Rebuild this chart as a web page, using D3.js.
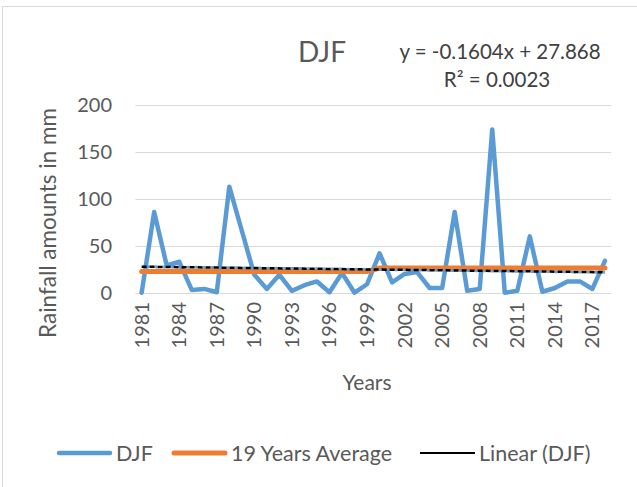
<!DOCTYPE html>
<html>
<head>
<meta charset="utf-8">
<script src="https://cdn.jsdelivr.net/npm/d3@7"></script>
<style>
  html, body { margin: 0; padding: 0; background: #fff; }
  svg { display: block; font-family: Lato, "Open Sans", sans-serif; }
</style>
</head>
<body>
<svg id="chart" width="637" height="487"></svg>
<script>
// DJF seasonal rainfall, 1981–2018
const years = d3.range(1981, 2019);
const djf = [0, 86, 29, 33, 3, 4, 0.5, 113, 66, 19, 4, 19, 2, 8, 12, 0.5, 21, 0, 9,
             42, 11, 20, 22, 5, 5, 86, 2, 4, 174, 0, 2, 60, 1, 5, 12, 12, 4, 34];
// 19-year period averages (1981–1999, 2000–2018)
const avg19 = [22.6, 22.6, 22.6, 22.6, 22.6, 22.6, 22.6, 22.6, 22.6, 22.6,
               22.6, 22.6, 22.6, 22.6, 22.6, 22.6, 22.6, 22.6, 22.6,
               26.3, 26.3, 26.3, 26.3, 26.3, 26.3, 26.3, 26.3, 26.3, 26.3,
               26.3, 26.3, 26.3, 26.3, 26.3, 26.3, 26.3, 26.3, 26.3];
// linear trend fitted on the series index (1..38)
const trendSlope = -0.1604;
const trendIntercept = 27.868;
const yTicks = [0, 50, 100, 150, 200];
const xTickYears = [1981, 1984, 1987, 1990, 1993, 1996, 1999, 2002, 2005, 2008, 2011, 2014, 2017];
const legendItems = ["DJF", "19 Years Average", "Linear (DJF)"];

const textColor = "#595959";
const blue = "#5b9bd5", orange = "#ed7d31";

const svg = d3.select("#chart");

// chart-area border
svg.append("rect")
  .attr("x", 2.5).attr("y", 6.5).attr("width", 700).attr("height", 600)
  .attr("fill", "none").attr("stroke", "#d9d9d9").attr("stroke-width", 1);

const x = d3.scaleBand().domain(years).range([135.4, 611.2]);
const xc = yr => x(yr) + x.bandwidth() / 2;
const y = d3.scaleLinear().domain([0, 200]).range([292.7, 105]);

// gridlines
svg.append("g").selectAll("line").data(yTicks).join("line")
  .attr("x1", 135.4).attr("x2", 611.2)
  .attr("y1", d => Math.round(y(d)) + 0.5).attr("y2", d => Math.round(y(d)) + 0.5)
  .attr("stroke", "#d9d9d9").attr("stroke-width", 1);

// y axis labels
const yAxis = d3.axisLeft(y).tickValues(yTicks).tickSize(0).tickPadding(0);
const gy = svg.append("g").attr("transform", "translate(112,0)").call(yAxis);
gy.select(".domain").remove();
gy.selectAll("text").attr("fill", textColor).style("font-size", "20px")
  .style("font-family", "Lato, sans-serif");

// x axis labels (rotated)
const xAxis = d3.axisBottom(x).tickValues(xTickYears).tickSize(0).tickPadding(0);
const gx = svg.append("g").attr("transform", "translate(0,300)").call(xAxis);
gx.select(".domain").remove();
gx.selectAll("text")
  .attr("fill", textColor).style("font-size", "20px").style("font-family", "Lato, sans-serif")
  .attr("transform", "rotate(-90)")
  .attr("text-anchor", "end")
  .attr("x", -2).attr("y", 0).attr("dy", "0.35em");

// axis titles
svg.append("text").attr("x", 367).attr("y", 390).attr("text-anchor", "middle")
  .attr("fill", textColor).style("font-size", "21px").text("Years");
svg.append("text").attr("transform", "translate(56,223) rotate(-90)").attr("text-anchor", "middle")
  .attr("fill", textColor).style("font-size", "22.5px").text("Rainfall amounts in mm");

// title and trend equation
svg.append("text").attr("x", 322).attr("y", 62).attr("text-anchor", "middle")
  .attr("fill", textColor).style("font-size", "28px").text("DJF");
svg.append("text").attr("x", 500).attr("y", 59).attr("text-anchor", "middle")
  .attr("fill", "#404040").style("font-size", "20.5px").text("y = -0.1604x + 27.868");
svg.append("text").attr("x", 497).attr("y", 87).attr("text-anchor", "middle")
  .attr("fill", "#404040").style("font-size", "20.5px").text("R² = 0.0023");

const line = d3.line().x((d, i) => xc(years[i])).y(d => y(d));

// DJF series
svg.append("path").datum(djf).attr("d", line)
  .attr("fill", "none").attr("stroke", blue).attr("stroke-width", 4.5)
  .attr("stroke-linejoin", "round").attr("stroke-linecap", "round");

// 19-year average
svg.append("path").datum(avg19).attr("d", line)
  .attr("fill", "none").attr("stroke", orange).attr("stroke-width", 5)
  .attr("stroke-linejoin", "round").attr("stroke-linecap", "round");

// linear trend
const trendPts = [years[0], years[years.length - 1]].map(yr => {
  const i = years.indexOf(yr) + 1;
  return [xc(yr), y(trendSlope * i + trendIntercept)];
});
svg.append("path").attr("d", d3.line()(trendPts))
  .attr("fill", "none").attr("stroke", blue).attr("stroke-width", 3)
  .attr("stroke-dasharray", "2.5,5.5").attr("stroke-dashoffset", -5.5);
svg.append("path").attr("d", d3.line()(trendPts))
  .attr("fill", "none").attr("stroke", "#000").attr("stroke-width", 2.5)
  .attr("stroke-dasharray", "5,3");

// legend
const lg = svg.append("g").attr("transform", "translate(0,453)");
const legendDefs = [
  { name: legendItems[0], color: blue, w: 4.5, x: 57, tx: 116 },
  { name: legendItems[1], color: orange, w: 5, x: 172, tx: 231 },
  { name: legendItems[2], color: "#000", w: 2, x: 420, tx: 479 }
];
legendDefs.forEach(d => {
  const round = d.color !== "#000";
  lg.append("line").attr("x1", d.x + (round ? 2 : 0)).attr("x2", d.x + 55 - (round ? 2 : 0))
    .attr("y1", 0).attr("y2", 0)
    .attr("stroke", d.color).attr("stroke-width", d.w)
    .attr("stroke-linecap", round ? "round" : "butt");
  lg.append("text").attr("x", d.tx).attr("y", 0).attr("dy", "0.35em")
    .attr("fill", textColor).style("font-size", "21.5px").text(d.name);
});
</script>
</body>
</html>
